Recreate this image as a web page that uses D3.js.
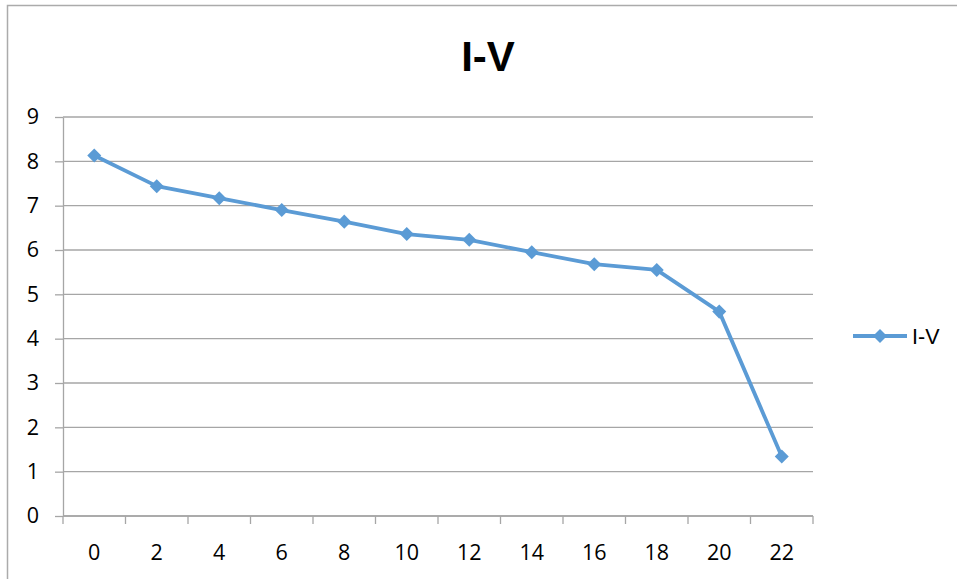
<!DOCTYPE html>
<html>
<head>
<meta charset="utf-8">
<script src="https://cdn.jsdelivr.net/npm/d3@7"></script>
<style>
  html, body { margin: 0; padding: 0; background: #fff; }
  svg { display: block; }
  text { font-family: "Liberation Sans", Arial, sans-serif; fill: #000; }
  .num { font-family: "Open Sans", "Liberation Sans", sans-serif; }
</style>
</head>
<body>
<svg id="chart" width="957" height="579"></svg>
<script>
// I-V curve, Excel style line chart on a category axis
const categories = ["0", "2", "4", "6", "8", "10", "12", "14", "16", "18", "20", "22"];
const current = [8.13, 7.44, 7.17, 6.90, 6.64, 6.36, 6.23, 5.95, 5.68, 5.55, 4.61, 1.34];
const yTicks = [0, 1, 2, 3, 4, 5, 6, 7, 8, 9];
const seriesName = "I-V";

const W = 957, H = 579;
const plot = { left: 63, right: 813, top: 117, bottom: 516 };
const grid = "#a6a6a6";
const blue = "#5b9bd5";

const svg = d3.select("#chart");

// outer chart frame (runs off right/bottom edge like the screenshot)
svg.append("path")
  .attr("d", `M7.5,${H + 5} V5.5 H${W + 5}`)
  .attr("fill", "none")
  .attr("stroke", "#ababab")
  .attr("stroke-width", 1.5);

const x = d3.scaleBand().domain(categories).range([plot.left, plot.right]);
const y = d3.scaleLinear().domain([0, 9]).range([plot.bottom, plot.top]);

// horizontal gridlines
svg.append("g")
  .selectAll("line")
  .data(yTicks)
  .join("line")
  .attr("x1", plot.left).attr("x2", plot.right)
  .attr("y1", d => y(d)).attr("y2", d => y(d))
  .attr("stroke", grid)
  .attr("stroke-width", 1.3);

// y axis
const yAxis = svg.append("g")
  .attr("transform", `translate(${plot.left},0)`)
  .call(d3.axisLeft(y).tickValues(yTicks).tickSize(8).tickPadding(16).tickSizeOuter(0));
yAxis.attr("font-family", null);
yAxis.select(".domain").attr("stroke", grid).attr("stroke-width", 1.3);
yAxis.selectAll(".tick line").attr("stroke", grid).attr("stroke-width", 1.3);
yAxis.selectAll("text")
  .attr("class", "num")
  .attr("font-size", 21.5)
  .attr("fill", "#000");

// x axis — ticks sit on the band boundaries, labels in the band centres
const xAxis = svg.append("g").attr("transform", `translate(0,${plot.bottom})`);
xAxis.append("line")
  .attr("x1", plot.left).attr("x2", plot.right)
  .attr("stroke", grid).attr("stroke-width", 1.3);
const bounds = categories.map(c => x(c)).concat([x.range()[1]]);
xAxis.selectAll("line.tk")
  .data(bounds)
  .join("line")
  .attr("class", "tk")
  .attr("x1", d => d).attr("x2", d => d)
  .attr("y1", 0).attr("y2", 8)
  .attr("stroke", grid).attr("stroke-width", 1.3);
xAxis.selectAll("text")
  .data(categories)
  .join("text")
  .attr("class", "num")
  .attr("x", d => x(d) + x.bandwidth() / 2)
  .attr("y", 43.5)
  .attr("text-anchor", "middle")
  .attr("font-size", 21.5)
  .text(d => d);

// the series
const pts = categories.map((c, i) => [x(c) + x.bandwidth() / 2, y(current[i])]);
svg.append("path")
  .attr("d", d3.line()(pts))
  .attr("fill", "none")
  .attr("stroke", blue)
  .attr("stroke-width", 3.8)
  .attr("stroke-linejoin", "round");

const diamond = d3.symbol().type(d3.symbolDiamond2).size(125);
svg.append("g")
  .selectAll("path")
  .data(pts)
  .join("path")
  .attr("transform", d => `translate(${d[0]},${d[1]})`)
  .attr("d", diamond)
  .attr("fill", blue);

// title
svg.append("text")
  .attr("x", 488)
  .attr("y", 71)
  .attr("text-anchor", "middle")
  .attr("font-size", 42)
  .attr("font-weight", "bold")
  .text(seriesName);

// legend
const lg = svg.append("g").attr("transform", "translate(853,336)");
lg.append("line")
  .attr("x1", 0).attr("x2", 54)
  .attr("stroke", blue).attr("stroke-width", 3.8);
lg.append("path")
  .attr("transform", "translate(27,0)")
  .attr("d", diamond)
  .attr("fill", blue);
lg.append("text")
  .attr("x", 59)
  .attr("y", 7.5)
  .attr("font-size", 21.5)
  .text(seriesName);
</script>
</body>
</html>
